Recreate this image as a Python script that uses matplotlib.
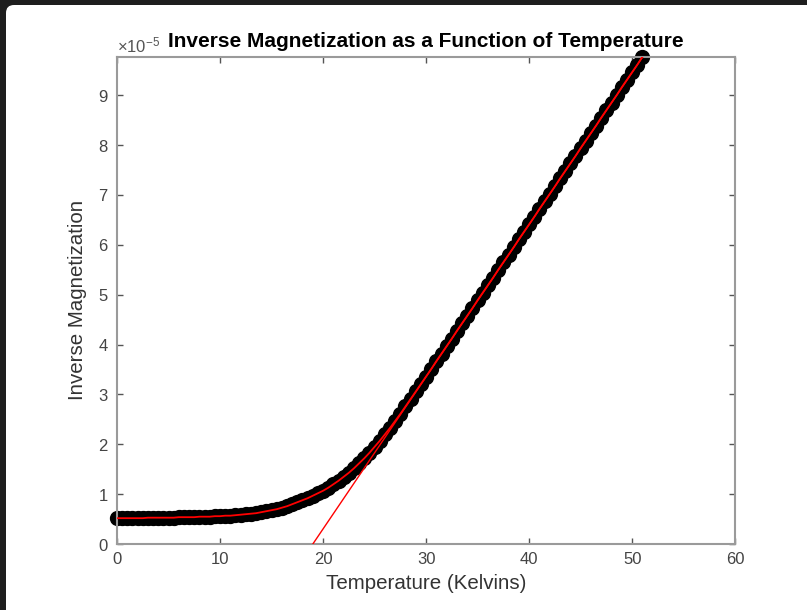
import matplotlib
matplotlib.use('Agg')
import matplotlib.pyplot as plt
from matplotlib.patches import FancyBboxPatch
from matplotlib.ticker import ScalarFormatter

plt.rcParams['font.family'] = ['Liberation Sans', 'DejaVu Sans']
plt.rcParams['mathtext.fontset'] = 'custom'
plt.rcParams['mathtext.rm'] = 'Liberation Sans'

# temperature (K) and inverse magnetization (x 1e-5)
temperature = [
    0.0, 0.5, 1.0, 1.5, 2.0, 2.5, 3.0, 3.5, 4.0, 4.5,
    5.0, 5.5, 6.0, 6.5, 7.0, 7.5, 8.0, 8.5, 9.0, 9.5,
    10.0, 10.5, 11.0, 11.5, 12.0, 12.5, 13.0, 13.5, 14.0, 14.5,
    15.0, 15.5, 16.0, 16.5, 17.0, 17.5, 18.0, 18.5, 19.0, 19.5,
    20.0, 20.5, 21.0, 21.5, 22.0, 22.5, 23.0, 23.5, 24.0, 24.5,
    25.0, 25.5, 26.0, 26.5, 27.0, 27.5, 28.0, 28.5, 29.0, 29.5,
    30.0, 30.5, 31.0, 31.5, 32.0, 32.5, 33.0, 33.5, 34.0, 34.5,
    35.0, 35.5, 36.0, 36.5, 37.0, 37.5, 38.0, 38.5, 39.0, 39.5,
    40.0, 40.5, 41.0, 41.5, 42.0, 42.5, 43.0, 43.5, 44.0, 44.5,
    45.0, 45.5, 46.0, 46.5, 47.0, 47.5, 48.0, 48.5, 49.0, 49.5,
    50.0, 50.5, 51.0,
]
inv_mag = [
    0.52, 0.52, 0.52, 0.52, 0.52, 0.52, 0.53, 0.53, 0.53, 0.53,
    0.53, 0.53, 0.54, 0.54, 0.54, 0.54, 0.55, 0.55, 0.55, 0.56,
    0.56, 0.57, 0.57, 0.58, 0.59, 0.60, 0.61, 0.62, 0.64, 0.66,
    0.68, 0.70, 0.73, 0.76, 0.80, 0.84, 0.88, 0.92, 0.97, 1.02,
    1.07, 1.13, 1.20, 1.27, 1.35, 1.43, 1.52, 1.62, 1.72, 1.83,
    1.95, 2.07, 2.20, 2.33, 2.47, 2.61, 2.76, 2.91, 3.06, 3.21,
    3.36, 3.51, 3.67, 3.82, 3.97, 4.12, 4.28, 4.43, 4.58, 4.73,
    4.89, 5.04, 5.19, 5.34, 5.50, 5.65, 5.80, 5.95, 6.11, 6.26,
    6.41, 6.56, 6.72, 6.87, 7.02, 7.17, 7.33, 7.48, 7.63, 7.78,
    7.94, 8.09, 8.24, 8.39, 8.55, 8.70, 8.85, 9.00, 9.16, 9.31,
    9.46, 9.61, 9.77,
]
inv_mag = [v * 1e-5 for v in inv_mag]

# linear (Curie-Weiss) fit endpoints
fit_T = [19.0, 51.0]
fit_M = [0.0, 9.76e-5]

fig = plt.figure(figsize=(8.07, 6.10), dpi=100)
fig.patch.set_facecolor('#1e1e1e')
fig.add_artist(FancyBboxPatch((6, -20), 840, 625, boxstyle='round,pad=0,rounding_size=8',
                              transform=None, facecolor='white', edgecolor='none', zorder=-10))

ax = fig.add_axes([0.145, 0.108, 0.766, 0.799])
ax.plot(temperature, inv_mag, 'o', mfc='black', mec='black', ms=9.5, mew=1.5, clip_on=False, zorder=2)
ax.plot(temperature, inv_mag, '-', color='red', lw=1.3, zorder=3)
ax.plot(fit_T, fit_M, '-', color='red', lw=1.0, zorder=3)

ax.set_xlim(0, 60)
ax.set_ylim(0, max(inv_mag))
ax.set_xticks(range(0, 61, 10))
ax.set_yticks([i * 1e-5 for i in range(10)])

fmt = ScalarFormatter(useMathText=True)
fmt.set_powerlimits((0, 0))
ax.yaxis.set_major_formatter(fmt)

for s in ax.spines.values():
    s.set_color('#9a9a9a')
    s.set_linewidth(1.5)
ax.tick_params(direction='in', length=4, width=1, color='#555555', top=True, right=True,
               labelsize=12, labelcolor='#444444', pad=6)
ax.yaxis.get_offset_text().set_fontsize(12)
ax.yaxis.get_offset_text().set_color('#555555')

ax.set_xlabel('Temperature (Kelvins)', fontsize=14.8, color='#333333', labelpad=5)
ax.set_ylabel('Inverse Magnetization', fontsize=14.8, color='#333333', labelpad=8)
ax.set_title('Inverse Magnetization as a Function of Temperature', fontsize=15,
             fontweight='bold', pad=7)

fig.savefig('out.png', dpi=100, facecolor=fig.get_facecolor())
